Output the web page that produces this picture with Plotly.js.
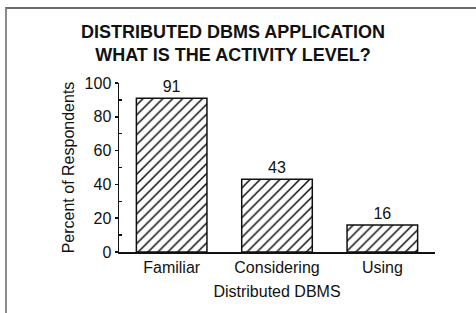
<!DOCTYPE html>
<html>
<head>
<meta charset="utf-8">
<script src="https://cdn.plot.ly/plotly-3.0.1.min.js"></script>
<style>
html,body{margin:0;padding:0;background:#fff;}
#chart{position:absolute;left:0;top:0;width:476px;height:313px;}
#frame{position:absolute;left:5px;top:7px;width:471px;height:306px;border-left:2px solid #8a8a8a;border-top:2px solid #6a6a6a;pointer-events:none;box-sizing:border-box;}
</style>
</head>
<body>
<div id="chart"></div>
<div id="frame"></div>
<script>
const categories = ["Familiar", "Considering", "Using"];
const percents = [91, 43, 16];
const majorTicks = [0, 20, 40, 60, 80, 100];
const minorTicks = [10, 30, 50, 70, 90, 100];
const titleLines = ["DISTRIBUTED DBMS APPLICATION", "WHAT IS THE ACTIVITY LEVEL?"];

const font = "Liberation Sans, Arial, Helvetica, sans-serif";

const trace = {
  type: "bar",
  x: categories,
  y: percents,
  width: 0.67,
  text: percents.map(String),
  textposition: "outside",
  cliponaxis: false,
  textfont: {family: font, size: 16, color: "#111"},
  marker: {
    color: "#fff",
    line: {color: "#111", width: 1.5},
    pattern: {shape: "/", fgcolor: "#000", bgcolor: "#fff", size: 7, solidity: 0.2}
  },
  hoverinfo: "none"
};

const dummy = {type: "scatter", x: categories, y: percents, yaxis: "y2", mode: "none", hoverinfo: "none", showlegend: false};

const plotL = 119, plotR = 41, plotT = 83, plotB = 61;
const plotW = 476 - plotL - plotR;
const plotH = 313 - plotT - plotB;

const layout = {
  width: 476, height: 313,
  paper_bgcolor: "rgba(0,0,0,0)",
  plot_bgcolor: "rgba(0,0,0,0)",
  showlegend: false,
  margin: {l: plotL, r: plotR, t: plotT, b: plotB, pad: 0},
  font: {family: font, color: "#111"},
  annotations: [{
    text: "<b>" + titleLines.join("<br>") + "</b>",
    xref: "paper", yref: "paper",
    x: (233 - plotL) / plotW,
    y: (313 - plotB - 44) / plotH,
    xanchor: "center", yanchor: "middle",
    showarrow: false,
    font: {family: font, size: 18, color: "#111"}
  }],
  xaxis: {
    type: "category",
    range: [-0.5, 2.5],
    showline: true, linecolor: "#111", linewidth: 1.5,
    ticks: "", showgrid: false, zeroline: false,
    tickfont: {family: font, size: 16, color: "#111"},
    title: {text: "Distributed DBMS", font: {family: font, size: 16, color: "#111"}, standoff: 11}
  },
  yaxis: {
    range: [0, 100],
    tickvals: majorTicks,
    ticks: "outside", ticklen: 3, tickwidth: 1.5, tickcolor: "#111",
    showline: true, linecolor: "#111", linewidth: 1.5,
    showgrid: false, zeroline: false,
    tickfont: {family: font, size: 16, color: "#111"},
    title: {text: "Percent of Respondents", font: {family: font, size: 16, color: "#111"}, standoff: 6}
  },
  yaxis2: {
    overlaying: "y", side: "left",
    range: [0, 100],
    tickvals: minorTicks,
    ticks: "inside", ticklen: 3, tickwidth: 1.5, tickcolor: "#111",
    showticklabels: false, showline: false, showgrid: false, zeroline: false
  }
};

Plotly.newPlot("chart", [trace, dummy], layout, {staticPlot: true});
</script>
</body>
</html>
